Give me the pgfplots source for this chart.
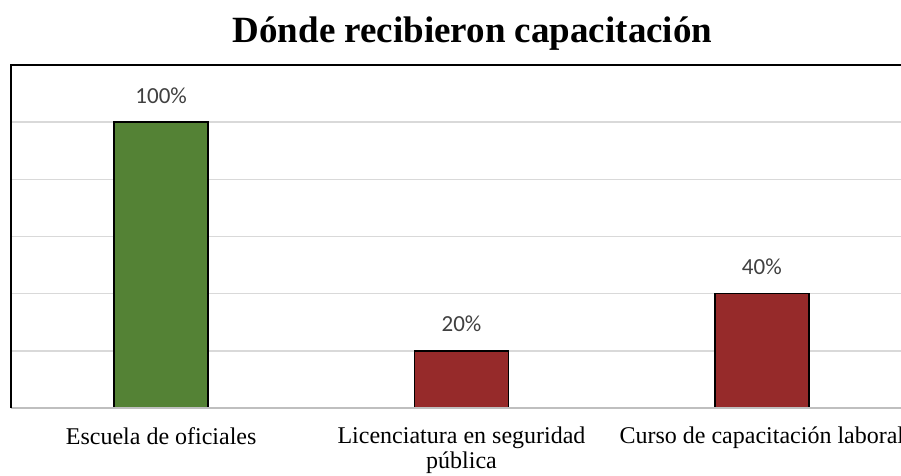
\documentclass[border=0pt]{standalone}
\usepackage{pgfplots}
\pgfplotsset{compat=1.18}
\usepackage{fontspec}
\setmainfont{Liberation Serif}
\newfontfamily\carlito{Carlito}
\definecolor{bargreen}{HTML}{548235}
\definecolor{barred}{HTML}{962A2A}
\definecolor{gridgray}{HTML}{D9D9D9}
\definecolor{basegray}{HTML}{BFBFBF}
\definecolor{labelgray}{HTML}{404040}
\begin{document}
\begin{tikzpicture}
\useasboundingbox (0,0) rectangle (901pt,475pt);
\begin{axis}[
 at={(11pt,67pt)}, anchor=south west,
 scale only axis, width=901pt, height=343pt,
 xmin=-0.5, xmax=2.5, ymin=0, ymax=120,
 axis line style={draw=none},
 /pgf/number format/assume math mode=true,
 xtick={0,1,2},
 xticklabels={Escuela de oficiales, Licenciatura en seguridad\\pública, Curso de capacitación laboral},
 ytick={20,40,60,80,100}, yticklabels={},
 major tick length=0pt,
 ymajorgrids, grid style={gridgray, line width=1.5pt},
 ybar, bar width=94pt, bar shift=0pt,
 nodes near coords={\pgfmathprintnumber{\pgfplotspointmeta}\%},
 every node near coord/.append style={font=\carlito\fontsize{23}{26}\selectfont, text=labelgray, inner sep=0pt, yshift=18pt},
 xticklabel style={font=\fontsize{24}{25}\selectfont, align=center, inner sep=0pt, yshift=-19pt},
 clip=false,
]
\addplot[fill=bargreen, draw=black, line width=1.5pt] coordinates {(0,100)};
\addplot[fill=barred, draw=black, line width=1.5pt] coordinates {(1,20) (2,40)};
\draw[basegray, line width=1.5pt] (rel axis cs:0,0) -- (rel axis cs:1,0);
\draw[black, line width=1.5pt] (rel axis cs:0,0) -- (rel axis cs:0,1) -- (rel axis cs:1,1);
\end{axis}
\node[anchor=base, font=\fontsize{37}{40}\selectfont\bfseries] at (472.5pt,432pt) {Dónde recibieron capacitación};
\end{tikzpicture}
\end{document}
